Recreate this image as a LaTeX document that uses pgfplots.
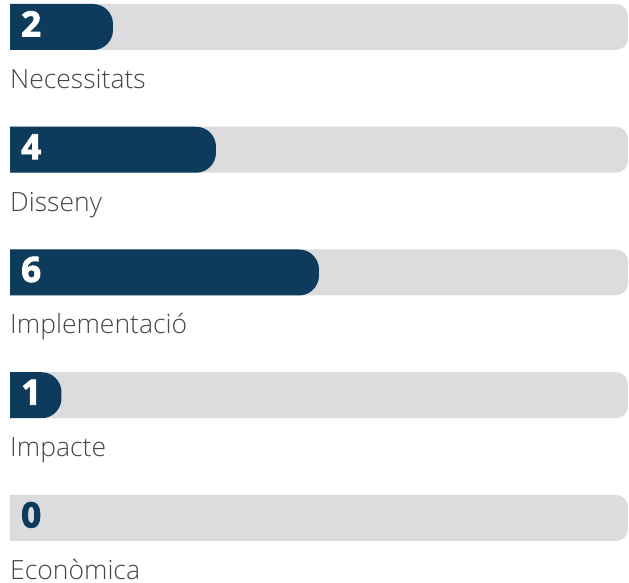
\documentclass[border=0pt]{standalone}
\usepackage{fontspec}
\setmainfont{Open Sans}
\newfontfamily\lbl{Open Sans}[UprightFont=* Light]
\newfontfamily\num{Open Sans}[UprightFont=* Bold, FakeBold=2.4]
\usepackage{pgfplots}
\pgfplotsset{compat=1.18}
\usepackage{pgfplotstable}
\definecolor{barblue}{HTML}{0E3A5C}
\definecolor{bargrey}{HTML}{DCDCDE}
\definecolor{lblgrey}{HTML}{474747}

% row, score, maximum
\pgfplotstableread{
row v max
0 2 12
1 4 12
2 6 12
3 1 12
4 0 12
}\scores

\tikzset{
  numlbl/.style={anchor=base west, xshift=11pt, yshift=-9.5pt, inner sep=0pt,
    font=\num\fontsize{35}{35}\selectfont, text=white},
  catlbl/.style={anchor=base west, yshift=-61.5pt, inner sep=0pt,
    font=\lbl\fontsize{26.5}{26.5}\selectfont, text=lblgrey},
}

\begin{document}
\begin{tikzpicture}
\useasboundingbox (0,0) rectangle (629pt,583pt);
\begin{scope}
% hide the rounded left ends of the bars
\clip (10pt,-20pt) rectangle (640pt,600pt);
\begin{axis}[
  at={(-41.5pt,0pt)}, anchor=south west,
  scale only axis, width=670.5pt, height=583pt,
  xmin=0, xmax=13.02, ymin=-0.22, ymax=4.53, y dir=reverse,
  axis lines=none, xtick=\empty, ytick=\empty,
  clip=false,
  bar width=46pt,
]
% x shifted by 1: value 0 sits at the left edge
\addplot[xbar, bar shift=0pt, draw=none, fill=bargrey, rounded corners=12pt]
  table[x expr=\thisrow{max}+1, y=row] {\scores};
\addplot[xbar, bar shift=0pt, draw=none, fill=barblue, rounded corners=20pt]
  table[x expr=\thisrow{v}+1, y=row] {\scores};

\node[numlbl] at (axis cs:1,0) {2};
\node[numlbl] at (axis cs:1,1) {4};
\node[numlbl] at (axis cs:1,2) {6};
\node[numlbl] at (axis cs:1,3) {1};
\node[numlbl, text=barblue] at (axis cs:1,4) {0};

\node[catlbl] at (axis cs:1,0) {Necessitats};
\node[catlbl] at (axis cs:1,1) {Disseny};
\node[catlbl] at (axis cs:1,2) {Implementació};
\node[catlbl] at (axis cs:1,3) {Impacte};
\node[catlbl] at (axis cs:1,4) {Econòmica};
\end{axis}
\end{scope}
\end{tikzpicture}
\end{document}
